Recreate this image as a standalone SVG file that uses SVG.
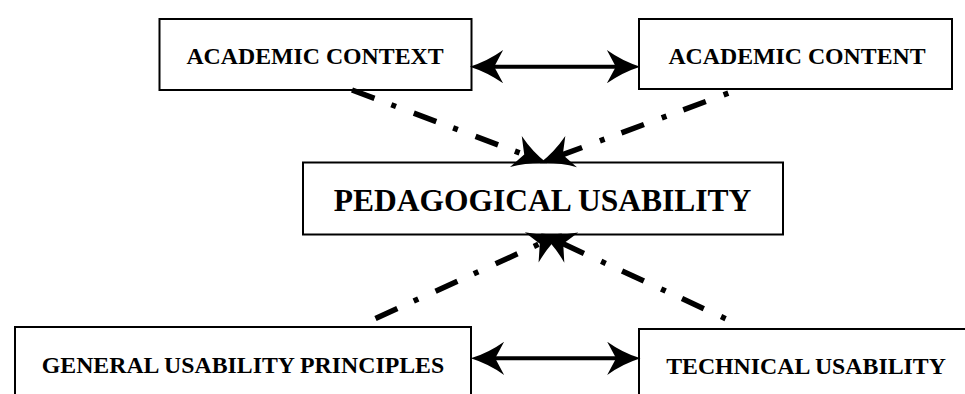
<svg xmlns="http://www.w3.org/2000/svg" width="965" height="394" viewBox="0 0 965 394">
<style>
.box{fill:#fff;stroke:#000;stroke-width:2}
.lbl{font-family:"Liberation Serif","Times New Roman",serif;font-weight:bold;font-size:23.8px;fill:#000;text-anchor:middle}
.big{font-size:31.5px}
.dd{fill:none;stroke:#000;stroke-width:5.5;stroke-dasharray:24 18 5 19;stroke-linecap:butt}
.dbl{fill:none;stroke:#000;stroke-width:4}
</style>
<defs>
<marker id="ah" markerUnits="userSpaceOnUse" orient="auto-start-reverse" refX="0" refY="0" markerWidth="40" markerHeight="40" viewBox="-12 -18 34 36" overflow="visible">
<path d="M20,0 Q4,-5 -10,-15 L-2,0 L-10,15 Q4,5 20,0 Z" fill="#000"/>
</marker>
</defs>
<rect width="965" height="394" fill="#fff"/>
<g id="academic-context">
<rect class="box" x="159.5" y="19" width="312" height="71"/>
<text class="lbl" x="315" y="64">ACADEMIC CONTEXT</text>
</g>
<g id="academic-content">
<rect class="box" x="639" y="19" width="313" height="70"/>
<text class="lbl" x="797" y="64">ACADEMIC CONTENT</text>
</g>
<g id="pedagogical-usability">
<rect class="box" x="303" y="162.5" width="480" height="72"/>
<text class="lbl big" x="542.5" y="211">PEDAGOGICAL USABILITY</text>
</g>
<g id="general-usability-principles">
<rect class="box" x="15" y="327" width="456" height="80"/>
<text class="lbl" x="243" y="372.7">GENERAL USABILITY PRINCIPLES</text>
</g>
<g id="technical-usability">
<rect class="box" x="639" y="329" width="340" height="80"/>
<text class="lbl" x="806" y="374">TECHNICAL USABILITY</text>
</g>
<g id="connectors">
<path class="dbl" d="M492,66.7 L618,66.7" marker-start="url(#ah)" marker-end="url(#ah)"/>
<path class="dbl" d="M493,358.3 L618.3,358.3" marker-start="url(#ah)" marker-end="url(#ah)"/>
<path class="dd" d="M352,90 L526.3,155.4" marker-end="url(#ah)"/>
<path class="dd" style="stroke-dashoffset:42" d="M728.3,93.1 L560.7,155.4" marker-end="url(#ah)"/>
<path class="dd" d="M375.5,318.5 L541.8,242.8" marker-end="url(#ah)"/>
<path class="dd" style="stroke-dashoffset:42" d="M725.6,318.7 L561.2,242.9" marker-end="url(#ah)"/>
</g>
</svg>
